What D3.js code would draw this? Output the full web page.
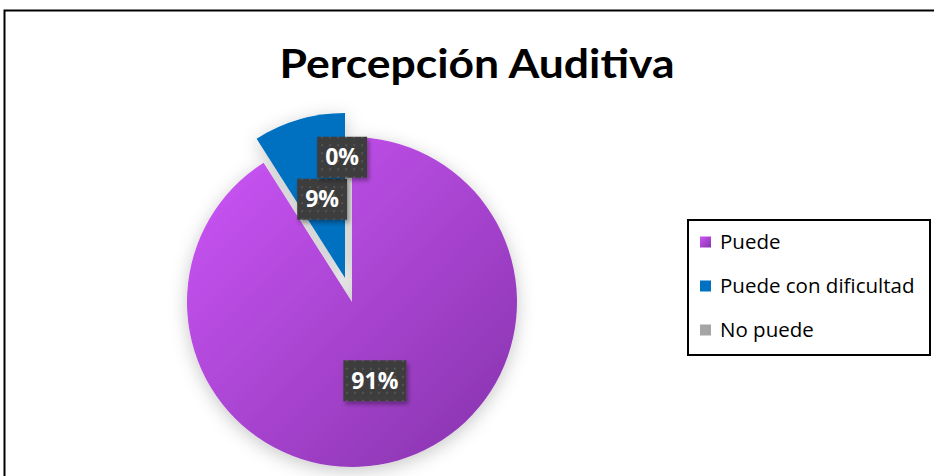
<!DOCTYPE html>
<html><head><meta charset="utf-8">
<script src="https://cdn.jsdelivr.net/npm/d3@7"></script>
<style>body{margin:0;background:#fff}svg{display:block}</style>
</head><body>
<script>
const title = "Percepción Auditiva";
const categories = ["Puede", "Puede con dificultad", "No puede"];
const values = [91, 9, 0];
const labels = ["91%", "9%", "0%"];
const colors = ["url(#gPurple)", "#0070c0", "#a5a5a5"];
const legendColors = ["url(#gLegend)", "#0070c0", "#a5a5a5"];
const explode = [0, 25, 0];

const W = 934, H = 476;
const svg = d3.select("body").append("svg").attr("width", W).attr("height", H);
const defs = svg.append("defs");

const cx = 352, cy = 302, R = 165, labelR = 82;

const gp = defs.append("linearGradient").attr("id","gPurple").attr("gradientUnits","userSpaceOnUse")
  .attr("x1",-150).attr("y1",-150).attr("x2",150).attr("y2",150);
gp.append("stop").attr("offset","0").attr("stop-color","#cb55f6");
gp.append("stop").attr("offset","1").attr("stop-color","#8834ae");
const gl = defs.append("linearGradient").attr("id","gLegend").attr("x1",0).attr("y1",0).attr("x2",1).attr("y2",1);
gl.append("stop").attr("offset","0").attr("stop-color","#cb55f6");
gl.append("stop").attr("offset","1").attr("stop-color","#8834ae");

const sh = defs.append("filter").attr("id","shadow").attr("x","-30%").attr("y","-30%").attr("width","160%").attr("height","160%");
sh.append("feDropShadow").attr("dx",0).attr("dy",4).attr("stdDeviation",9).attr("flood-color","#000").attr("flood-opacity",0.22);
const sh2 = defs.append("filter").attr("id","shadow2").attr("x","-30%").attr("y","-30%").attr("width","160%").attr("height","160%");
sh2.append("feDropShadow").attr("dx",2).attr("dy",3).attr("stdDeviation",2).attr("flood-color","#000").attr("flood-opacity",0.35);

const pat = defs.append("pattern").attr("id","dots").attr("width",8).attr("height",8).attr("patternUnits","userSpaceOnUse");
pat.append("rect").attr("width",8).attr("height",8).attr("fill","#3d3d3d");
pat.append("rect").attr("x",3).attr("y",3).attr("width",2).attr("height",2).attr("fill","#555");

// frame
svg.append("rect").attr("x",4.5).attr("y",10.5).attr("width",W+10).attr("height",H+10)
  .attr("fill","none").attr("stroke","#000").attr("stroke-width",2);

// title
svg.append("text").attr("x",477).attr("y",78).attr("text-anchor","middle")
  .attr("font-family","Lato, 'Open Sans', sans-serif").attr("font-weight","bold")
  .attr("font-size",41).attr("textLength",395).attr("lengthAdjust","spacingAndGlyphs")
  .attr("fill","#000").text(title);

// pie
const pie = d3.pie().sort(null).value(d => d)(values);
const arc = d3.arc().innerRadius(0).outerRadius(R);
const larc = d3.arc().innerRadius(labelR).outerRadius(labelR);
const gPie = svg.append("g").attr("transform",`translate(${cx},${cy})`).attr("filter","url(#shadow)");

function offset(d, i) {
  const a = (d.startAngle + d.endAngle) / 2;
  return [Math.sin(a) * explode[i], -Math.cos(a) * explode[i]];
}
gPie.selectAll("path").data(pie).join("path")
  .attr("d", arc)
  .attr("fill", (d,i) => colors[i])
  .attr("transform", (d,i) => { const o = offset(d,i); return `translate(${o[0]},${o[1]})`; });

// labels
const boxH = 41, fs = 23;
const lpos = pie.map((d,i) => { const c = larc.centroid(d); const o = offset(d,i); return [cx + c[0] + o[0], cy + c[1] + o[1]]; });
// zero-size slice label stacked above the previous label (as Excel does)
lpos[2] = [lpos[1][0] + 20, lpos[1][1] - boxH - 1];
const gl2 = svg.append("g");
labels.forEach((t, i) => {
  const g = gl2.append("g").attr("transform",`translate(${lpos[i][0]},${lpos[i][1]})`);
  const txt = g.append("text").attr("text-anchor","middle").attr("dy","0.35em")
    .attr("font-family","'Open Sans', sans-serif").attr("font-weight","bold")
    .attr("font-size",fs).attr("fill","#fff").text(t);
  const w = txt.node().getComputedTextLength() + 16;
  g.insert("rect","text").attr("x",-w/2).attr("y",-boxH/2).attr("width",w).attr("height",boxH)
    .attr("fill","url(#dots)").attr("filter","url(#shadow2)");
});

// legend
const lg = svg.append("g");
lg.append("rect").attr("x",688).attr("y",220).attr("width",242).attr("height",135)
  .attr("fill","#fff").attr("stroke","#000").attr("stroke-width",2);
const ly = d3.scalePoint().domain(categories).range([242, 330]);
categories.forEach((c, i) => {
  lg.append("rect").attr("x",700).attr("y",ly(c)-5.5).attr("width",11).attr("height",11).attr("fill",legendColors[i]);
  lg.append("text").attr("x",720).attr("y",ly(c)).attr("dy","0.35em")
    .attr("font-family","'Open Sans', sans-serif").attr("font-size",20.5).attr("fill","#000").text(c);
});
</script>
</body></html>
